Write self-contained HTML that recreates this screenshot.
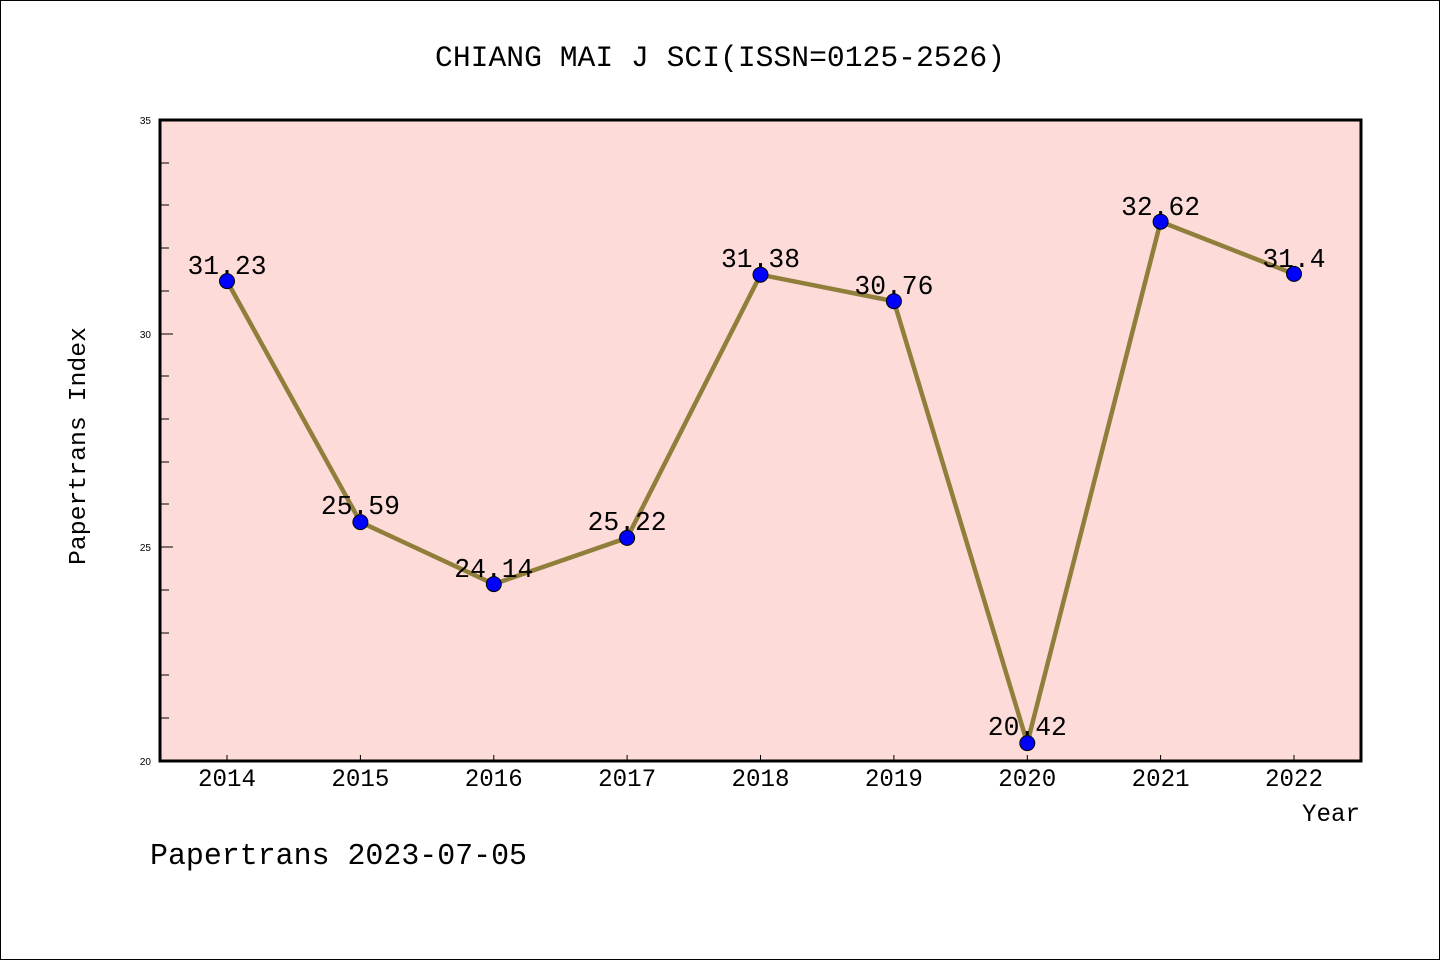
<!DOCTYPE html>
<html><head><meta charset="utf-8"><style>html,body{margin:0;padding:0;background:#fff}svg{display:block}</style></head>
<body>
<svg width="1440" height="960" viewBox="0 0 1440 960" xmlns="http://www.w3.org/2000/svg" font-family="'WenQuanYi Zen Hei','Liberation Mono',monospace">
<rect x="0.5" y="0.5" width="1439" height="959" fill="#fff" stroke="#000" stroke-width="1"/>
<text x="720" y="66" font-size="30" text-anchor="middle" textLength="570" lengthAdjust="spacingAndGlyphs">CHIANG MAI J SCI(ISSN=0125-2526)</text>
<rect x="160" y="120" width="1201" height="641" fill="#fddbd8"/>
<g stroke="#000" stroke-width="1">
<line x1="160" y1="163" x2="169" y2="163"/><line x1="160" y1="205" x2="169" y2="205"/><line x1="160" y1="248" x2="169" y2="248"/><line x1="160" y1="291" x2="169" y2="291"/><line x1="160" y1="334" x2="173" y2="334"/>
<line x1="160" y1="376" x2="169" y2="376"/><line x1="160" y1="419" x2="169" y2="419"/><line x1="160" y1="462" x2="169" y2="462"/><line x1="160" y1="504" x2="169" y2="504"/><line x1="160" y1="547" x2="173" y2="547"/>
<line x1="160" y1="590" x2="169" y2="590"/><line x1="160" y1="633" x2="169" y2="633"/><line x1="160" y1="675" x2="169" y2="675"/><line x1="160" y1="718" x2="169" y2="718"/>
<line x1="227" y1="761" x2="227" y2="755"/><line x1="360.4" y1="761" x2="360.4" y2="755"/><line x1="493.8" y1="761" x2="493.8" y2="755"/><line x1="627.1" y1="761" x2="627.1" y2="755"/><line x1="760.5" y1="761" x2="760.5" y2="755"/><line x1="893.9" y1="761" x2="893.9" y2="755"/><line x1="1027.3" y1="761" x2="1027.3" y2="755"/><line x1="1160.6" y1="761" x2="1160.6" y2="755"/><line x1="1294" y1="761" x2="1294" y2="755"/>
</g>
<rect x="160" y="120" width="1201" height="641" fill="none" stroke="#000" stroke-width="3"/>
<g font-family="'Liberation Sans',sans-serif" font-size="10" text-anchor="end">
<text x="151" y="124">35</text><text x="151" y="338">30</text><text x="151" y="551">25</text><text x="151" y="765">20</text>
</g>
<g font-size="25" text-anchor="middle">
<text x="227" y="786" textLength="58" lengthAdjust="spacingAndGlyphs">2014</text><text x="360.4" y="786" textLength="58" lengthAdjust="spacingAndGlyphs">2015</text><text x="493.8" y="786" textLength="58" lengthAdjust="spacingAndGlyphs">2016</text><text x="627.1" y="786" textLength="58" lengthAdjust="spacingAndGlyphs">2017</text><text x="760.5" y="786" textLength="58" lengthAdjust="spacingAndGlyphs">2018</text><text x="893.9" y="786" textLength="58" lengthAdjust="spacingAndGlyphs">2019</text><text x="1027.3" y="786" textLength="58" lengthAdjust="spacingAndGlyphs">2020</text><text x="1160.6" y="786" textLength="58" lengthAdjust="spacingAndGlyphs">2021</text><text x="1294" y="786" textLength="58" lengthAdjust="spacingAndGlyphs">2022</text>
</g>
<text x="1360" y="821" font-size="25" text-anchor="end" textLength="58" lengthAdjust="spacingAndGlyphs">Year</text>
<text transform="translate(85,446) rotate(-90)" font-size="24" text-anchor="middle" textLength="238" lengthAdjust="spacingAndGlyphs">Papertrans Index</text>
<text x="150" y="864" font-size="31" textLength="377" lengthAdjust="spacingAndGlyphs">Papertrans 2023-07-05</text>
<polyline fill="none" stroke="#8f7f3a" stroke-width="4.5" points="227,281.1 360.4,522.1 493.8,584.1 627.1,537.9 760.5,274.7 893.9,301.2 1027.3,743.1 1160.6,221.7 1294,273.9"/>
<g font-size="27" text-anchor="middle">
<text x="227" y="274" textLength="79" lengthAdjust="spacingAndGlyphs">31.23</text><text x="360.4" y="514" textLength="79" lengthAdjust="spacingAndGlyphs">25.59</text><text x="493.8" y="577" textLength="79" lengthAdjust="spacingAndGlyphs">24.14</text><text x="627.1" y="530" textLength="79" lengthAdjust="spacingAndGlyphs">25.22</text><text x="760.5" y="267" textLength="79" lengthAdjust="spacingAndGlyphs">31.38</text><text x="893.9" y="294" textLength="79" lengthAdjust="spacingAndGlyphs">30.76</text><text x="1027.3" y="735" textLength="79" lengthAdjust="spacingAndGlyphs">20.42</text><text x="1160.6" y="215" textLength="79" lengthAdjust="spacingAndGlyphs">32.62</text><text x="1294" y="267" textLength="63" lengthAdjust="spacingAndGlyphs">31.4</text>
</g>
<g fill="#0000ff" stroke="#000" stroke-width="1">
<circle cx="227" cy="281.1" r="7.5"/><circle cx="360.4" cy="522.1" r="7.5"/><circle cx="493.8" cy="584.1" r="7.5"/><circle cx="627.1" cy="537.9" r="7.5"/><circle cx="760.5" cy="274.7" r="7.5"/><circle cx="893.9" cy="301.2" r="7.5"/><circle cx="1027.3" cy="743.1" r="7.5"/><circle cx="1160.6" cy="221.7" r="7.5"/><circle cx="1294" cy="273.9" r="7.5"/>
</g>
</svg>
</body></html>
